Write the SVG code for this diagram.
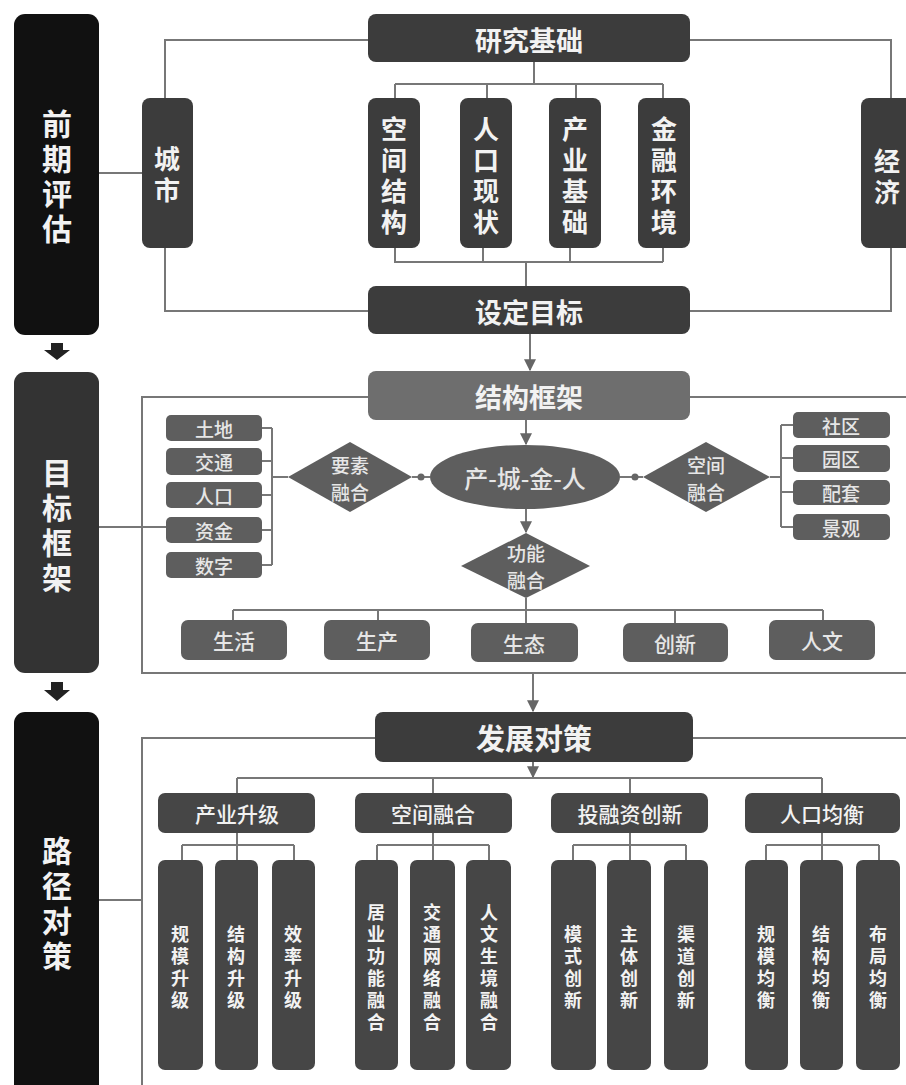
<svg xmlns="http://www.w3.org/2000/svg" width="906" height="1085" viewBox="0 0 906 1085">
<defs>
<marker id="arr" viewBox="0 0 10 10" refX="9" refY="5" markerWidth="6" markerHeight="6" orient="auto"><path d="M0,0 L10,5 L0,10 z" fill="#666"/></marker>
<style>
text{font-family:"Noto Sans CJK SC","Noto Sans",sans-serif;text-anchor:middle;dominant-baseline:central;fill:#f2f2f2}
.side{fill:#111}
.side2{fill:#333}
.dk{fill:#3c3c3c}
.md{fill:#6e6e6e}
.mn{fill:#5e5e5e}
.bt{fill:#464646}
.big{font-size:30px;font-weight:700}
.hd{font-size:27px;font-weight:700}
.vt{font-size:26px;font-weight:700}
.sm{font-size:19px;font-weight:500;fill:#e6e6e6}
.dm{font-size:19px;font-weight:500;fill:#e6e6e6}
.bx{font-size:21px;font-weight:500;fill:#e6e6e6}
.cat{font-size:21px;font-weight:500}
.sub{font-size:18px;font-weight:700}
.ln{fill:none;stroke:#777;stroke-width:2}
</style>
</defs>

<g id="connectors" class="ln">
<path d="M99,173 H142"/>
<path d="M165,98 V40 H368"/>
<path d="M690,40 H891 V98"/>
<path d="M165,248 V311 H368"/>
<path d="M891,248 V311 H690"/>
<path d="M534,62 V84 M395,84 H663 M395,84 V98 M487,84 V98 M576,84 V98 M663,84 V98"/>
<path d="M395,248 V262 H663 M483,248 V262 M570,248 V262 M663,248 V262 M526,262 V286"/>
<path d="M530,334 V370" marker-end="url(#arr)"/>
<path d="M368,397 H142 V673 H906 M690,397 H906"/>
<path d="M99,527 H166"/>
<path d="M262,428 H272 M262,461 H272 M262,495 H272 M262,530 H272 M262,565 H272 M272,428 V565 M272,477 H288"/>
<path d="M430,477 H412"/>
<path d="M620,477 H643"/>
<path d="M526,420 V444" marker-end="url(#arr)"/>
<path d="M770,477 H781 M781,425 V527 M781,425 H793 M781,458 H793 M781,492 H793 M781,527 H793"/>
<path d="M526,508 V532" marker-end="url(#arr)"/>
<path d="M526,598 V610 M233,610 H823 M233,610 V620 M378,610 V620 M526,610 V623 M675,610 V623 M823,610 V620"/>
<path d="M533,673 V711" marker-end="url(#arr)"/>
<path d="M375,738 H142 V1085 M693,738 H906"/>
<path d="M99,900 H142"/>
<path d="M533,762 V777" marker-end="url(#arr)"/>
<path d="M237,778 H822 M237,778 V793 M433,778 V793 M630,778 V793 M822,778 V793"/>
<path d="M237,833 V860 M182,845 H294 M182,845 V860 M294,845 V860"/>
<path d="M433,833 V860 M377,845 H489 M377,845 V860 M489,845 V860"/>
<path d="M630,833 V860 M573,845 H686 M573,845 V860 M686,845 V860"/>
<path d="M822,833 V860 M766,845 H879 M766,845 V860 M879,845 V860"/>
<circle cx="421" cy="477" r="3.5" fill="#666" stroke="none"/>
<circle cx="635" cy="477" r="3.5" fill="#666" stroke="none"/>
<polygon points="51,343 63,343 63,350 70,350 57,360 44,350 51,350" fill="#222" stroke="none"/>
<polygon points="51,682 63,682 63,690 70,690 57,701 44,690 51,690" fill="#222" stroke="none"/>
</g>

<g id="qianqipinggu"><rect x="14" y="14" width="85" height="321" rx="11" class="side"/>
<text class="big"><tspan x="57" y="122">前</tspan><tspan x="57" y="157">期</tspan><tspan x="57" y="192">评</tspan><tspan x="57" y="227">估</tspan></text></g>
<g id="mubiaokuangjia"><rect x="14" y="372" width="85" height="301" rx="11" class="side2"/>
<text class="big"><tspan x="57" y="471">目</tspan><tspan x="57" y="506">标</tspan><tspan x="57" y="541">框</tspan><tspan x="57" y="576">架</tspan></text></g>
<g id="lujingduice"><rect x="14" y="712" width="85" height="390" rx="11" class="side"/>
<text class="big"><tspan x="57" y="849">路</tspan><tspan x="57" y="884">径</tspan><tspan x="57" y="919">对</tspan><tspan x="57" y="954">策</tspan></text></g>

<g id="yanjiujichu"><rect x="368" y="14" width="322" height="48" rx="8" class="dk"/><text class="hd" x="529" y="39">研究基础</text></g>
<g id="chengshi"><rect x="142" y="98" width="51" height="150" rx="8" class="dk"/>
<text class="vt"><tspan x="167" y="157">城</tspan><tspan x="167" y="188">市</tspan></text></g>
<g id="kongjianjiegou"><rect x="368" y="98" width="52" height="150" rx="8" class="dk"/>
<text class="vt"><tspan x="394" y="127">空</tspan><tspan x="394" y="158">间</tspan><tspan x="394" y="189">结</tspan><tspan x="394" y="220">构</tspan></text></g>
<g id="renkouxianzhuang"><rect x="460" y="98" width="52" height="150" rx="8" class="dk"/>
<text class="vt"><tspan x="486" y="127">人</tspan><tspan x="486" y="158">口</tspan><tspan x="486" y="189">现</tspan><tspan x="486" y="220">状</tspan></text></g>
<g id="chanyejichu"><rect x="549" y="98" width="52" height="150" rx="8" class="dk"/>
<text class="vt"><tspan x="575" y="127">产</tspan><tspan x="575" y="158">业</tspan><tspan x="575" y="189">基</tspan><tspan x="575" y="220">础</tspan></text></g>
<g id="jinronghuanjing"><rect x="638" y="98" width="52" height="150" rx="8" class="dk"/>
<text class="vt"><tspan x="664" y="127">金</tspan><tspan x="664" y="158">融</tspan><tspan x="664" y="189">环</tspan><tspan x="664" y="220">境</tspan></text></g>
<g id="jingji"><rect x="861" y="98" width="52" height="150" rx="8" class="dk"/>
<text class="vt"><tspan x="887" y="159">经</tspan><tspan x="887" y="190">济</tspan></text></g>
<g id="shedingmubiao"><rect x="368" y="286" width="322" height="48" rx="8" class="dk"/><text class="hd" x="529" y="311">设定目标</text></g>

<g id="jiegoukuangjia"><rect x="368" y="371" width="322" height="49" rx="8" class="md"/><text class="hd" x="529" y="396">结构框架</text></g>
<g id="tudi"><rect x="166" y="415" width="96" height="26" rx="5" class="mn"/><text class="sm" x="214" y="428">土地</text></g>
<g id="jiaotong"><rect x="166" y="448" width="96" height="27" rx="5" class="mn"/><text class="sm" x="214" y="461">交通</text></g>
<g id="renkou"><rect x="166" y="482" width="96" height="26" rx="5" class="mn"/><text class="sm" x="214" y="495">人口</text></g>
<g id="zijin"><rect x="166" y="517" width="96" height="26" rx="5" class="mn"/><text class="sm" x="214" y="530">资金</text></g>
<g id="shuzi"><rect x="166" y="552" width="96" height="26" rx="5" class="mn"/><text class="sm" x="214" y="565">数字</text></g>
<g id="yaosuronghe"><polygon points="288,477 350,442 412,477 350,512" class="mn"/>
<text class="dm"><tspan x="350" y="464">要素</tspan><tspan x="350" y="491">融合</tspan></text></g>
<g id="chanchengjinren"><ellipse cx="525" cy="477" rx="95" ry="32" class="mn"/><text class="bx" x="525" y="477" style="font-size:24px">产-城-金-人</text></g>
<g id="kongjianronghe1"><polygon points="643,477 706,442 770,477 706,512" class="mn"/>
<text class="dm"><tspan x="706" y="464">空间</tspan><tspan x="706" y="491">融合</tspan></text></g>
<g id="shequ"><rect x="793" y="412" width="97" height="26" rx="5" class="mn"/><text class="sm" x="841" y="425">社区</text></g>
<g id="yuanqu"><rect x="793" y="445" width="97" height="27" rx="5" class="mn"/><text class="sm" x="841" y="458">园区</text></g>
<g id="peitao"><rect x="793" y="480" width="97" height="25" rx="5" class="mn"/><text class="sm" x="841" y="492">配套</text></g>
<g id="jingguan"><rect x="793" y="514" width="97" height="26" rx="5" class="mn"/><text class="sm" x="841" y="527">景观</text></g>
<g id="gongnengronghe"><polygon points="461,566 526,533 590,566 526,598" class="mn"/>
<text class="dm"><tspan x="526" y="552">功能</tspan><tspan x="526" y="579">融合</tspan></text></g>
<g id="shenghuo"><rect x="181" y="620" width="106" height="40" rx="7" class="mn"/><text class="bx" x="234" y="640">生活</text></g>
<g id="shengchan"><rect x="324" y="620" width="106" height="40" rx="7" class="mn"/><text class="bx" x="377" y="640">生产</text></g>
<g id="shengtai"><rect x="471" y="623" width="107" height="39" rx="7" class="mn"/><text class="bx" x="524" y="643">生态</text></g>
<g id="chuangxin"><rect x="623" y="623" width="105" height="39" rx="7" class="mn"/><text class="bx" x="675" y="643">创新</text></g>
<g id="renwen"><rect x="769" y="620" width="106" height="40" rx="7" class="mn"/><text class="bx" x="822" y="640">人文</text></g>

<g id="fazhanduice"><rect x="375" y="712" width="318" height="50" rx="8" class="dk"/><text class="hd" x="534" y="737" style="font-size:29px">发展对策</text></g>
<g id="chanyeshengji"><rect x="158" y="793" width="157" height="40" rx="7" class="bt"/><text class="cat" x="237" y="813">产业升级</text></g>
<g id="kongjianronghe2"><rect x="355" y="793" width="157" height="40" rx="7" class="bt"/><text class="cat" x="433" y="813">空间融合</text></g>
<g id="tourongzichuangxin"><rect x="551" y="793" width="157" height="40" rx="7" class="bt"/><text class="cat" x="630" y="813">投融资创新</text></g>
<g id="renkoujunheng"><rect x="745" y="793" width="155" height="40" rx="7" class="bt"/><text class="cat" x="822" y="813">人口均衡</text></g>

<g id="guimoshengji"><rect x="158" y="860" width="45" height="210" rx="7" class="bt"/>
<text class="sub"><tspan x="180" y="933">规</tspan><tspan x="180" y="955">模</tspan><tspan x="180" y="977">升</tspan><tspan x="180" y="999">级</tspan></text></g>
<g id="jiegoushengji"><rect x="215" y="860" width="43" height="210" rx="7" class="bt"/>
<text class="sub"><tspan x="236" y="933">结</tspan><tspan x="236" y="955">构</tspan><tspan x="236" y="977">升</tspan><tspan x="236" y="999">级</tspan></text></g>
<g id="xiaolvshengji"><rect x="272" y="860" width="43" height="210" rx="7" class="bt"/>
<text class="sub"><tspan x="293" y="933">效</tspan><tspan x="293" y="955">率</tspan><tspan x="293" y="977">升</tspan><tspan x="293" y="999">级</tspan></text></g>
<g id="juyegongnengronghe"><rect x="355" y="860" width="43" height="210" rx="7" class="bt"/>
<text class="sub"><tspan x="376" y="911">居</tspan><tspan x="376" y="933">业</tspan><tspan x="376" y="955">功</tspan><tspan x="376" y="977">能</tspan><tspan x="376" y="999">融</tspan><tspan x="376" y="1021">合</tspan></text></g>
<g id="jiaotongwangluoronghe"><rect x="410" y="860" width="45" height="210" rx="7" class="bt"/>
<text class="sub"><tspan x="432" y="911">交</tspan><tspan x="432" y="933">通</tspan><tspan x="432" y="955">网</tspan><tspan x="432" y="977">络</tspan><tspan x="432" y="999">融</tspan><tspan x="432" y="1021">合</tspan></text></g>
<g id="renwenshengjingronghe"><rect x="466" y="860" width="45" height="210" rx="7" class="bt"/>
<text class="sub"><tspan x="489" y="911">人</tspan><tspan x="489" y="933">文</tspan><tspan x="489" y="955">生</tspan><tspan x="489" y="977">境</tspan><tspan x="489" y="999">融</tspan><tspan x="489" y="1021">合</tspan></text></g>
<g id="moshichuangxin"><rect x="551" y="860" width="45" height="210" rx="7" class="bt"/>
<text class="sub"><tspan x="573" y="933">模</tspan><tspan x="573" y="955">式</tspan><tspan x="573" y="977">创</tspan><tspan x="573" y="999">新</tspan></text></g>
<g id="zhutichuangxin"><rect x="607" y="860" width="44" height="210" rx="7" class="bt"/>
<text class="sub"><tspan x="629" y="933">主</tspan><tspan x="629" y="955">体</tspan><tspan x="629" y="977">创</tspan><tspan x="629" y="999">新</tspan></text></g>
<g id="qudaochuangxin"><rect x="664" y="860" width="44" height="210" rx="7" class="bt"/>
<text class="sub"><tspan x="686" y="933">渠</tspan><tspan x="686" y="955">道</tspan><tspan x="686" y="977">创</tspan><tspan x="686" y="999">新</tspan></text></g>
<g id="guimojunheng"><rect x="745" y="860" width="43" height="210" rx="7" class="bt"/>
<text class="sub"><tspan x="766" y="933">规</tspan><tspan x="766" y="955">模</tspan><tspan x="766" y="977">均</tspan><tspan x="766" y="999">衡</tspan></text></g>
<g id="jiegoujunheng"><rect x="800" y="860" width="43" height="210" rx="7" class="bt"/>
<text class="sub"><tspan x="821" y="933">结</tspan><tspan x="821" y="955">构</tspan><tspan x="821" y="977">均</tspan><tspan x="821" y="999">衡</tspan></text></g>
<g id="bujujunheng"><rect x="856" y="860" width="44" height="210" rx="7" class="bt"/>
<text class="sub"><tspan x="878" y="933">布</tspan><tspan x="878" y="955">局</tspan><tspan x="878" y="977">均</tspan><tspan x="878" y="999">衡</tspan></text></g>
</svg>
